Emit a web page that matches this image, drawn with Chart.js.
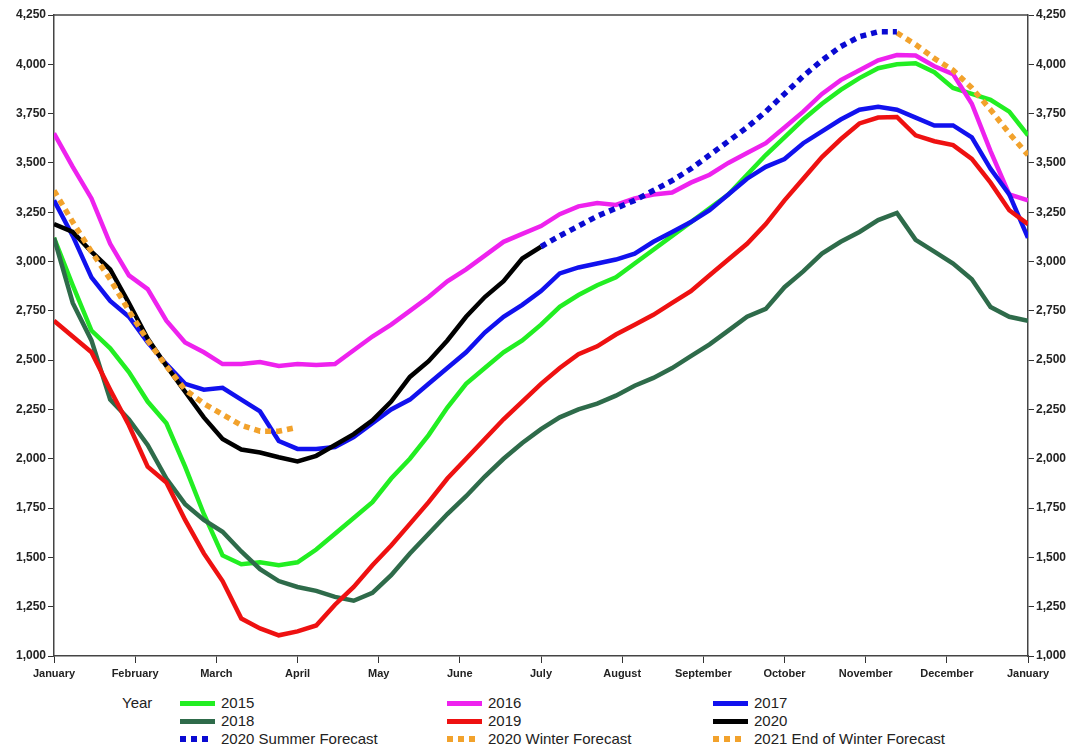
<!DOCTYPE html>
<html>
<head>
<meta charset="utf-8">
<script src="https://cdn.jsdelivr.net/npm/chart.js@4.4.1/dist/chart.umd.min.js"></script>
<style>
  body { margin: 0; background: #fff; font-family: "Liberation Sans", Arial, sans-serif; }
  #wrap { position: relative; width: 1077px; height: 752px; }
  #legend { position: absolute; left: 0; top: 694px; width: 1077px; height: 58px; font-size: 15px; color: #222; }
  #legend .yr { position: absolute; left: 122px; top: 0; line-height: 18px; }
  #legend .item { position: absolute; height: 18px; line-height: 18px; white-space: nowrap; }
  #legend .sw { position: absolute; left: 0; top: 7px; width: 35px; height: 5px; }
  #legend .txt { position: absolute; left: 41px; top: 0; }
</style>
</head>
<body>
<div id="wrap">
  <canvas id="chart" width="1077" height="690"></canvas>
  <div id="legend"><span class="yr">Year</span></div>
</div>
<script>
const months = ["January", "February", "March", "April", "May", "June", "July",
  "August", "September", "October", "November", "December", "January"];
const weeks = Array.from({ length: 53 }, (_, i) => i);

const y2015 = [3120, 2880, 2650, 2560, 2440, 2290, 2180, 1960, 1720, 1510, 1465, 1475, 1460, 1475,
  1540, 1620, 1700, 1780, 1900, 2000, 2120, 2260, 2380, 2460, 2540, 2600, 2680, 2770, 2830, 2880,
  2920, 2990, 3060, 3130, 3200, 3270, 3340, 3440, 3540, 3630, 3720, 3800, 3870, 3930, 3980, 4000,
  4005, 3960, 3880, 3850, 3820, 3760, 3640];
const y2016 = [3650, 3480, 3320, 3090, 2930, 2860, 2700, 2590, 2540, 2480, 2480, 2490, 2470, 2480,
  2475, 2480, 2550, 2620, 2680, 2750, 2820, 2900, 2960, 3030, 3100, 3140, 3180, 3240, 3280, 3297,
  3287, 3320, 3340, 3350, 3400, 3440, 3500, 3550, 3600, 3680, 3760, 3850, 3920, 3970, 4020, 4047,
  4045, 3990, 3950, 3800, 3560, 3340, 3310];
const y2017 = [3310, 3130, 2920, 2800, 2720, 2590, 2480, 2380, 2350, 2360, 2300, 2240, 2090, 2050,
  2050, 2060, 2110, 2180, 2250, 2300, 2380, 2460, 2540, 2640, 2720, 2780, 2850, 2940, 2970, 2990,
  3010, 3040, 3100, 3150, 3200, 3260, 3340, 3420, 3480, 3520, 3600, 3660, 3720, 3770, 3785, 3770,
  3730, 3690, 3690, 3630, 3470, 3340, 3120];
const y2018 = [3120, 2790, 2600, 2300, 2200, 2070, 1900, 1770, 1690, 1630, 1530, 1440, 1380, 1350,
  1330, 1300, 1280, 1320, 1410, 1520, 1620, 1720, 1810, 1910, 2000, 2080, 2150, 2210, 2250, 2280,
  2320, 2370, 2410, 2460, 2520, 2580, 2650, 2720, 2760, 2870, 2950, 3040, 3100, 3150, 3210, 3246,
  3110, 3050, 2990, 2910, 2770, 2720, 2700];
const y2019 = [2700, 2620, 2540, 2350, 2170, 1960, 1880, 1690, 1520, 1380, 1190, 1140, 1105, 1125,
  1155, 1260, 1350, 1460, 1560, 1670, 1780, 1900, 2000, 2100, 2200, 2290, 2380, 2460, 2530, 2570,
  2630, 2680, 2730, 2790, 2850, 2930, 3010, 3090, 3190, 3310, 3420, 3530, 3620, 3700, 3730, 3733,
  3640, 3610, 3590, 3520, 3400, 3260, 3190];
// partial series: values start at the given week
const y2020 = [3190, 3150, 3050, 2960, 2790, 2610, 2470, 2340, 2210, 2100, 2047, 2032, 2008, 1987,
  2015, 2070, 2125, 2195, 2290, 2415, 2495, 2600, 2720, 2820, 2900, 3015, 3075];
const y2020Start = 0;
const summer2020 = [3075, 3130, 3180, 3230, 3270, 3310, 3360, 3410, 3470, 3540, 3610, 3680, 3760,
  3850, 3940, 4020, 4090, 4140, 4165, 4165];
const summer2020Start = 26;
const winter2020 = [3360, 3200, 3050, 2910, 2750, 2600, 2470, 2350, 2280, 2225, 2170, 2140, 2140, 2160];
const winter2020Start = 0;
const winter2021 = [4160, 4100, 4030, 3970, 3880, 3770, 3650, 3540];
const winter2021Start = 45;

const pts = (vals, start) => vals.map((v, i) => ({ x: weeks[start + i], y: v }));

const series = [
  { label: "2020 Summer Forecast", data: pts(summer2020, summer2020Start), color: "#0a0ad2", dash: true },
  { label: "2020 Winter Forecast", data: pts(winter2020, winter2020Start), color: "#f2a22c", dash: true },
  { label: "2021 End of Winter Forecast", data: pts(winter2021, winter2021Start), color: "#f2a22c", dash: true },
  { label: "2020", data: pts(y2020, y2020Start), color: "#000000" },
  { label: "2019", data: pts(y2019, 0), color: "#ee1111" },
  { label: "2018", data: pts(y2018, 0), color: "#2e6b4a" },
  { label: "2017", data: pts(y2017, 0), color: "#1111ee" },
  { label: "2016", data: pts(y2016, 0), color: "#ee22ee" },
  { label: "2015", data: pts(y2015, 0), color: "#22ee22" },
];

const datasets = series.map(s => ({
  label: s.label,
  data: s.data,
  borderColor: s.color,
  backgroundColor: s.color,
  borderWidth: s.dash ? 5.5 : 4.5,
  borderDash: s.dash ? [6, 5] : [],
  borderCapStyle: "butt",
  pointRadius: 0,
  tension: 0,
  fill: false,
}));

const tickFont = { family: "'Liberation Sans', Arial, sans-serif", size: 12, weight: "bold" };
const yAxis = (pos, width) => ({
  position: pos,
  min: 1000,
  max: 4250,
  ticks: {
    stepSize: 250,
    color: "#222",
    font: tickFont,
    padding: 2,
    callback: v => v.toLocaleString("en-US"),
  },
  grid: { drawOnChartArea: false, tickLength: 6, color: "#333" },
  border: { color: "#444", width: 1.5 },
  afterFit: s => { s.width = width; },
});

const frame = {
  id: "frame",
  afterDraw(chart) {
    const a = chart.chartArea, ctx = chart.ctx;
    ctx.save();
    ctx.strokeStyle = "#444";
    ctx.lineWidth = 1.5;
    ctx.beginPath();
    ctx.moveTo(a.left, a.top);
    ctx.lineTo(a.right, a.top);
    ctx.stroke();
    ctx.restore();
  },
};

new Chart(document.getElementById("chart"), {
  type: "line",
  data: { datasets: datasets },
  options: {
    responsive: false,
    animation: false,
    layout: { padding: { top: 15, left: 0, right: 0, bottom: 0 } },
    plugins: { legend: { display: false }, tooltip: { enabled: false } },
    scales: {
      x: {
        type: "linear",
        min: 0,
        max: 52,
        afterBuildTicks: s => { s.ticks = months.map((m, i) => ({ value: i * 52 / 12 })); },
        ticks: {
          autoSkip: false,
          maxRotation: 0,
          color: "#222",
          font: { family: "'Liberation Sans', Arial, sans-serif", size: 11, weight: "bold" },
          padding: 4,
          callback: (v, i) => months[i],
        },
        grid: { drawOnChartArea: false, tickLength: 7, color: "#333" },
        border: { color: "#444", width: 1.5 },
        afterFit: s => { s.height = 34; },
      },
      y: yAxis("left", 54),
      y2: yAxis("right", 49),
    },
  },
  plugins: [frame],
});

// legend below the chart, three columns
const legendItems = [
  { label: "2015", color: "#22ee22", col: 0, row: 0 },
  { label: "2016", color: "#ee22ee", col: 1, row: 0 },
  { label: "2017", color: "#1111ee", col: 2, row: 0 },
  { label: "2018", color: "#2e6b4a", col: 0, row: 1 },
  { label: "2019", color: "#ee1111", col: 1, row: 1 },
  { label: "2020", color: "#000000", col: 2, row: 1 },
  { label: "2020 Summer Forecast", color: "#0a0ad2", col: 0, row: 2, dash: true },
  { label: "2020 Winter Forecast", color: "#f2a22c", col: 1, row: 2, dash: true },
  { label: "2021 End of Winter Forecast", color: "#f2a22c", col: 2, row: 2, dash: true },
];
const colX = [180, 447, 713];
const legend = document.getElementById("legend");
legendItems.forEach(it => {
  const d = document.createElement("div");
  d.className = "item";
  d.style.left = colX[it.col] + "px";
  d.style.top = (it.row * 18) + "px";
  const sw = document.createElement("span");
  sw.className = "sw";
  if (it.dash) {
    sw.style.width = "30px";
    sw.style.height = "6px";
    sw.style.top = "6px";
    sw.style.background = `repeating-linear-gradient(to right, ${it.color} 0 6px, transparent 6px 11px)`;
  } else {
    sw.style.background = it.color;
  }
  const t = document.createElement("span");
  t.className = "txt";
  t.textContent = it.label;
  d.appendChild(sw);
  d.appendChild(t);
  legend.appendChild(d);
});
</script>
</body>
</html>
